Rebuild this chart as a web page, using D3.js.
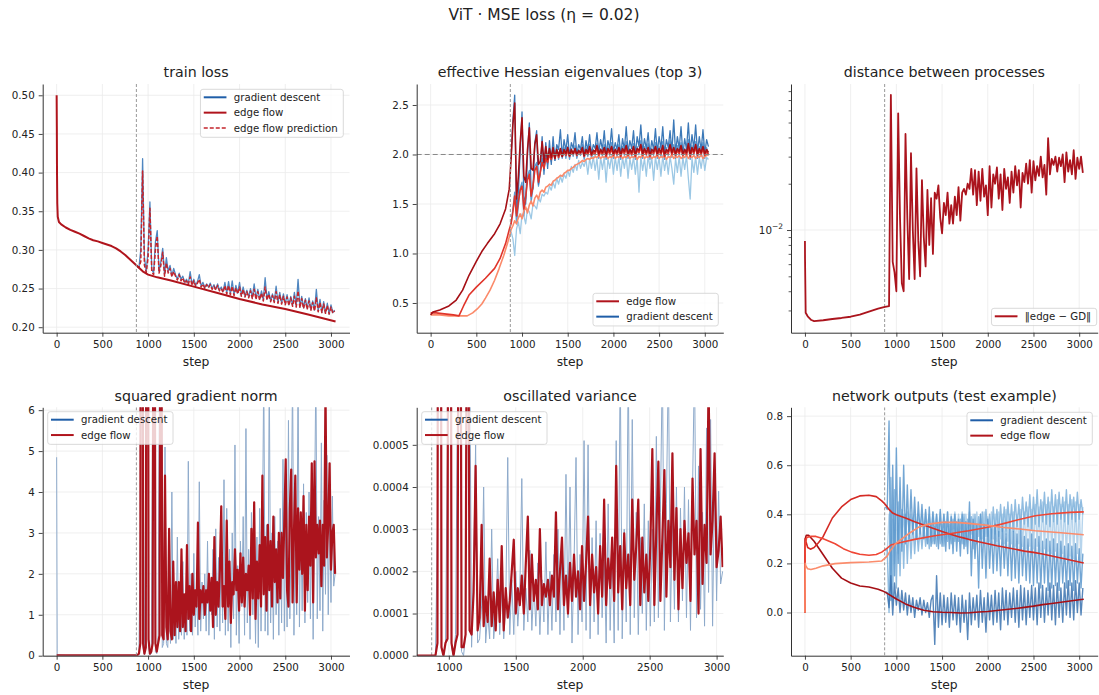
<!DOCTYPE html>
<html><head><meta charset="utf-8">
<script src="https://cdn.jsdelivr.net/npm/d3@7"></script>
<style>
body{margin:0;background:#fff;overflow:hidden;}
text{font-family:"DejaVu Sans",sans-serif;}
</style></head><body>
<script>
// ================= DATA =================
const SUPTITLE = "ViT · MSE loss (η = 0.02)";
const TITLES = ["train loss","effective Hessian eigenvalues (top 3)","distance between processes",
                "squared gradient norm","oscillated variance","network outputs (test example)"];
const X_TICKS = [0,500,1000,1500,2000,2500,3000];
const X_TICKS_VAR = [1000,1500,2000,2500,3000];
const LOSS_TICKS = [0.20,0.25,0.30,0.35,0.40,0.45,0.50];
const EIG_TICKS = [0.5,1.0,1.5,2.0,2.5];
const DIST_MAJOR = [0.01];
const DIST_MINOR = [0.003,0.004,0.005,0.006,0.007,0.008,0.009,0.02,0.03,0.04,0.05,0.06,0.07,0.08];
const GRAD_TICKS = [0,1,2,3,4,5,6];
const VAR_TICKS = [0,0.0001,0.0002,0.0003,0.0004,0.0005];
const OUT_TICKS = [0.0,0.2,0.4,0.6,0.8];
const EOS_STEP = 872;      // vertical dashed marker
const EOS_LEVEL = 2.0;     // 2/eta

// ---- panel 1: train loss ----
const lossEF = [[0,0.500],[2,0.46],[4,0.40],[7,0.36],[12,0.343],[25,0.336],[50,0.333],[100,0.329],[150,0.326],[200,0.3235],[250,0.321],[300,0.318],[350,0.315],[400,0.3125],[450,0.311],[500,0.309],[550,0.307],[600,0.305],[650,0.302],[700,0.298],[750,0.2935],[800,0.288],[850,0.2825],[900,0.277],[950,0.2715],[1000,0.268],[1100,0.2645],[1250,0.2605],[1500,0.2525],[1750,0.2445],[2000,0.2365],[2250,0.2295],[2500,0.2235],[2750,0.2165],[3050,0.2075]];
const LOSS_START = 880, LOSS_STRIDE = 20;
const lossGD = [
0.279,0.277,0.300,0.418,0.290,0.272,0.300,0.362,0.275,0.270,
0.310,0.325,0.272,0.285,0.302,0.268,0.290,0.272,0.280,0.266,
0.276,0.268,0.262,0.270,0.262,0.266,0.258,0.262,0.256,0.272,
0.256,0.262,0.254,0.259,0.268,0.253,0.258,0.251,0.256,0.252,
0.257,0.250,0.255,0.249,0.256,0.248,0.252,0.246,0.258,0.244,
0.259,0.243,0.260,0.242,0.254,0.244,0.258,0.241,0.252,0.240,
0.248,0.239,0.250,0.238,0.256,0.237,0.249,0.236,0.247,0.235,
0.264,0.236,0.246,0.234,0.243,0.233,0.253,0.232,0.245,0.231,
0.243,0.230,0.242,0.229,0.240,0.228,0.245,0.227,0.262,0.226,
0.240,0.225,0.237,0.224,0.238,0.223,0.234,0.222,0.249,0.221,
0.236,0.219,0.233,0.218,0.231,0.217,0.229,0.219,0.222];
const lossPred = [
0.279,0.277,0.285,0.402,0.280,0.271,0.290,0.354,0.272,0.268,
0.300,0.318,0.270,0.280,0.297,0.266,0.283,0.270,0.276,0.265,
0.272,0.266,0.261,0.268,0.260,0.264,0.257,0.260,0.255,0.265,
0.254,0.260,0.253,0.257,0.262,0.252,0.256,0.250,0.255,0.251,
0.255,0.249,0.253,0.248,0.254,0.247,0.250,0.245,0.254,0.243,
0.254,0.242,0.253,0.241,0.251,0.243,0.252,0.240,0.249,0.239,
0.246,0.238,0.247,0.237,0.249,0.236,0.246,0.235,0.244,0.234,
0.252,0.235,0.243,0.233,0.241,0.232,0.246,0.231,0.242,0.230,
0.240,0.229,0.239,0.228,0.238,0.227,0.240,0.226,0.247,0.225,
0.237,0.224,0.235,0.223,0.234,0.222,0.232,0.221,0.238,0.220,
0.232,0.219,0.230,0.218,0.228,0.217,0.226,0.218,0.221];

// ---- panel 2: eigenvalues ----
const EIG_START = 880, EIG_STRIDE = 20;
const eigEF1Pre = [[0,0.38],[25,0.41],[100,0.43],[200,0.47],[280,0.53],[350,0.63],[420,0.78],[500,0.92],[560,1.02],[620,1.10],[700,1.20],[760,1.30],[820,1.45],[860,1.65]];
const eigEF1 = [
1.95,2.30,2.52,1.55,1.78,2.12,2.37,1.78,1.72,2.05,
2.27,1.86,1.84,2.10,2.20,1.90,1.93,2.13,1.92,2.08,
1.95,2.06,1.97,2.07,1.96,2.05,1.99,2.06,1.98,2.05,
2.01,2.07,1.99,2.05,2.01,2.06,2.00,2.04,2.02,2.07,
1.99,2.05,2.02,2.08,2.00,2.04,2.03,2.09,2.01,2.05,
2.02,2.07,2.00,2.06,2.03,2.08,2.01,2.05,2.02,2.07,
2.00,2.06,2.03,2.09,2.01,2.05,2.02,2.08,2.00,2.06,
2.04,2.10,2.01,2.06,2.02,2.07,2.00,2.05,2.03,2.08,
2.01,2.06,2.02,2.09,2.00,2.05,2.03,2.10,2.02,2.07,
2.01,2.06,2.03,2.09,2.01,2.05,2.02,2.11,2.00,2.07,
2.03,2.10,2.01,2.06,2.02,2.08,2.01,2.05,2.02];
const eigEF2Pre = [[0,0.40],[60,0.40],[150,0.39],[250,0.38],[310,0.37],[360,0.47],[420,0.58],[500,0.66],[600,0.75],[700,0.85],[760,0.95],[820,1.10],[860,1.24]];
const eigEF2 = [
1.30,1.42,1.58,1.38,1.52,1.64,1.68,1.45,1.57,1.74,
1.80,1.58,1.68,1.84,1.88,1.72,1.82,1.92,1.86,1.96,
1.92,2.00,1.95,2.02,1.96,2.03,1.97,2.02,1.98,2.03,
1.99,2.04,1.98,2.03,2.00,2.04,1.99,2.03,2.01,2.05,
1.98,2.03,2.00,2.05,1.99,2.02,2.01,2.06,1.99,2.03,
2.00,2.05,1.98,2.04,2.01,2.05,1.99,2.03,2.00,2.05,
1.98,2.04,2.01,2.06,1.99,2.03,2.00,2.05,1.98,2.04,
2.02,2.07,1.99,2.04,2.00,2.05,1.98,2.03,2.01,2.06,
1.99,2.04,2.00,2.06,1.98,2.03,2.01,2.07,2.00,2.05,
1.99,2.04,2.01,2.06,1.99,2.03,2.00,2.08,1.98,2.05,
2.01,2.07,1.99,2.04,2.00,2.06,1.99,2.03,2.00];
const eigEF3Pre = [[0,0.38],[100,0.38],[200,0.37],[300,0.37],[400,0.37],[460,0.40],[510,0.44],[560,0.49],[600,0.55],[650,0.63],[700,0.73],[750,0.85],[800,0.98],[840,1.10],[870,1.20]];
const eigEF3 = [
1.24,1.28,1.33,1.30,1.36,1.40,1.35,1.43,1.47,1.41,
1.49,1.53,1.48,1.56,1.59,1.55,1.62,1.64,1.62,1.67,
1.68,1.70,1.69,1.73,1.74,1.76,1.77,1.79,1.78,1.81,
1.82,1.84,1.84,1.86,1.87,1.89,1.90,1.91,1.92,1.94,
1.93,1.95,1.96,1.95,1.97,1.96,1.98,1.97,1.99,1.96,
1.98,1.97,1.99,1.96,1.98,1.97,2.00,1.96,1.98,1.97,
1.99,1.96,1.98,1.97,2.00,1.96,1.98,1.97,1.99,1.95,
1.98,1.97,2.00,1.96,1.98,1.97,1.99,1.96,1.98,1.97,
2.00,1.96,1.98,1.97,1.99,1.95,1.98,1.97,2.00,1.96,
1.98,1.97,1.99,1.96,1.98,1.97,2.00,1.96,1.98,1.97,
1.99,1.96,1.98,1.97,2.00,1.96,1.98,1.99,2.00];
const eigGD1 = [
1.95,2.35,2.60,1.40,1.62,2.02,2.43,1.58,1.50,2.00,
2.32,1.60,1.66,2.12,2.24,1.70,1.82,2.18,1.80,2.12,
1.86,2.14,1.90,2.18,1.94,2.10,2.05,2.25,1.98,2.15,
2.04,2.20,1.98,2.12,2.06,2.22,2.00,2.10,2.05,2.18,
1.98,2.14,2.04,2.20,2.00,2.10,2.06,2.22,2.02,2.15,
2.05,2.24,2.00,2.14,2.06,2.26,2.02,2.12,2.05,2.20,
1.99,2.16,2.05,2.28,2.02,2.14,2.06,2.24,2.00,2.18,
2.08,2.30,2.02,2.16,2.06,2.22,2.00,2.14,2.05,2.26,
2.02,2.18,2.06,2.28,2.01,2.15,2.07,2.24,2.03,2.35,
2.02,2.18,2.06,2.28,2.00,2.16,2.05,2.32,2.02,2.20,
2.06,2.30,2.02,2.18,2.04,2.25,2.01,2.15,2.08];
const eigGD2 = [
1.30,1.45,1.62,1.30,1.48,1.66,1.72,1.38,1.55,1.78,
1.84,1.52,1.66,1.88,1.92,1.68,1.82,1.96,1.84,2.00,
1.90,2.04,1.93,2.06,1.94,2.08,1.95,2.05,1.96,2.07,
1.96,2.08,1.95,2.06,1.98,2.09,1.96,2.05,1.99,2.10,
1.95,2.07,1.98,2.10,1.96,2.05,1.99,2.11,1.96,2.06,
1.98,2.10,1.95,2.08,1.99,2.12,1.96,2.06,1.98,2.10,
1.95,2.08,1.99,2.13,1.96,2.06,1.98,2.11,1.95,2.08,
2.00,2.14,1.96,2.08,1.99,2.11,1.95,2.06,1.99,2.12,
1.96,2.08,1.98,2.13,1.95,2.07,1.99,2.14,1.97,2.10,
1.96,2.09,1.99,2.12,1.96,2.06,1.98,2.15,1.95,2.09,
1.99,2.13,1.96,2.08,1.98,2.12,1.96,2.07,1.99];
const eigGD3 = [
1.22,1.15,0.98,1.25,1.32,1.20,1.40,1.38,1.30,1.45,
1.42,1.35,1.50,1.48,1.45,1.56,1.52,1.60,1.58,1.62,
1.60,1.68,1.64,1.72,1.66,1.76,1.70,1.78,1.72,1.80,
1.76,1.84,1.78,1.88,1.82,1.90,1.84,1.94,1.86,1.92,
1.88,1.95,1.80,1.96,1.86,1.98,1.84,1.96,1.75,1.97,
1.85,1.98,1.72,1.96,1.86,1.99,1.80,1.97,1.84,1.98,
1.78,1.97,1.86,1.99,1.76,1.96,1.85,1.98,1.80,1.97,
1.62,1.98,1.84,1.96,1.78,1.99,1.86,1.97,1.74,1.98,
1.85,1.97,1.78,1.99,1.84,1.96,1.80,1.98,1.86,1.70,
1.96,1.82,1.98,1.78,1.97,1.85,1.99,1.76,1.55,1.96,
1.82,1.98,1.80,1.97,1.86,1.99,1.84,1.97,1.95];

// ---- panel 3: distance between processes ----
const distPre = [[0,0.0085],[1,0.0065],[8,0.0029],[30,0.00275],[70,0.0026],[100,0.00256],[200,0.00259],[300,0.00264],[400,0.00268],[500,0.00273],[600,0.00282],[700,0.00295],[800,0.00308],[875,0.00316],[920,0.0032]];
const DIST_START = 940, DIST_STRIDE = 20;
const distEF = [
0.0755,0.0062,0.0053,0.0040,0.0574,0.0120,0.0045,0.0040,0.0421,0.0120,
0.0048,0.0316,0.0100,0.0048,0.0252,0.0085,0.0050,0.0211,0.0090,0.0058,
0.0182,0.0080,0.0161,0.0070,0.0175,0.0160,0.0195,0.0120,0.0095,0.0150,
0.0125,0.0175,0.0110,0.0145,0.0110,0.0165,0.0125,0.0190,0.0115,0.0175,
0.0185,0.0170,0.0200,0.0185,0.0250,0.0170,0.0245,0.0145,0.0240,0.0155,
0.0250,0.0165,0.0195,0.0125,0.0260,0.0140,0.0230,0.0200,0.0255,0.0160,
0.0230,0.0135,0.0250,0.0185,0.0220,0.0150,0.0240,0.0175,0.0260,0.0195,
0.0245,0.0140,0.0235,0.0205,0.0270,0.0200,0.0285,0.0175,0.0280,0.0210,
0.0260,0.0225,0.0300,0.0220,0.0265,0.0170,0.0395,0.0230,0.0290,0.0265,
0.0300,0.0240,0.0295,0.0260,0.0310,0.0205,0.0320,0.0240,0.0285,0.0230,
0.0330,0.0215,0.0295,0.0250,0.0300,0.0235];

// ---- panel 4: squared gradient norm ----
const gradGDPre = [[0,4.85],[6,0.02],[100,0.01],[880,0.01]];
const gradEFPre = [[0,0.01],[880,0.01]];
const OSC_START = 885, OSC_STRIDE = 15;
const gradEF = [
0.02,0.05,0.3,40,0.3,0.05,0.2,30,0.4,0.05,
0.1,0.3,20,0.3,0.1,0.3,0.5,14,0.5,0.4,
4.4,0.7,0.4,3.1,0.6,0.4,2.3,0.5,1.8,0.7,
1.8,0.6,2.6,0.7,1.5,0.6,2.7,0.9,1.7,0.6,
2.0,1.0,1.6,1.2,3.25,0.9,1.6,1.3,1.7,1.0,
1.6,1.3,2.0,1.1,1.9,0.7,2.9,1.0,1.8,1.2,
2.1,3.65,1.2,1.7,0.9,3.3,1.2,2.3,0.8,1.8,
1.5,2.6,1.6,2.1,1.1,2.5,1.3,2.4,1.2,2.0,
1.6,2.2,1.0,3.1,1.4,3.75,0.9,2.3,1.4,2.7,
1.2,4.4,1.5,2.9,1.1,3.2,1.6,2.8,1.2,3.4,
1.8,2.6,1.3,3.0,1.4,3.0,1.9,3.3,4.8,1.6,
1.2,3.6,4.55,1.3,3.0,4.4,1.3,3.6,2.1,3.5,
2.0,3.9,1.1,3.2,1.6,3.4,2.2,4.7,1.3,4.75,
2.4,3.2,2.5,3.3,1.7,3.2,2.2,6.5,2.4,3.2,
4.7,2.1,3.0,3.2,2.0];
const gradGD = [
0.02,0.05,3.0,45,0.2,0.02,5.0,35,0.2,0.02,
0.05,6.0,25,0.1,0.05,0.5,8.0,16,0.2,0.3,
5.1,0.3,0.2,1.5,0.3,4.0,0.4,1.3,0.3,2.9,
0.4,1.2,0.5,2.3,0.4,1.5,0.5,4.75,0.6,2.0,
0.5,2.5,0.7,1.6,0.5,4.25,0.6,1.8,0.9,2.0,
0.6,2.8,0.5,1.8,1.0,2.6,0.4,3.1,0.7,2.4,
0.6,2.9,0.8,4.3,0.5,3.6,0.6,2.6,0.2,3.0,
0.9,5.15,0.5,2.2,0.3,2.8,1.2,3.4,0.5,5.55,
0.8,2.6,0.4,3.5,1.0,2.4,0.3,2.9,0.2,3.6,
0.6,2.8,7.0,0.6,3.2,0.5,7.0,0.8,3.0,0.4,
3.4,1.0,2.8,0.5,3.6,0.8,4.8,0.6,3.2,0.7,
5.75,0.9,3.0,7.0,0.5,3.6,1.0,7.0,0.7,3.3,
1.1,4.2,0.8,3.5,1.3,4.0,0.9,3.7,0.4,3.5,
7.0,0.9,3.4,1.1,5.2,0.6,3.8,1.5,4.9,1.0,
3.5,1.3,3.9,1.7,2.0];

// ---- panel 5: oscillated variance ----
const varPre = [[760,0],[880,0]];
const varEF = [
0,0,0.3e-4,40e-4,0.2e-4,0,0.3e-4,0.4e-4,30e-4,0.3e-4,
0,0.3e-4,0.5e-4,20e-4,0.2e-4,0.2e-4,0.5e-4,14e-4,0.6e-4,0.5e-4,
1.5e-4,4.5e-4,0.6e-4,0.9e-4,3.1e-4,0.7e-4,1.4e-4,0.8e-4,2.3e-4,0.7e-4,
1.5e-4,0.6e-4,1.8e-4,0.8e-4,2.6e-4,0.6e-4,1.6e-4,0.9e-4,1.3e-4,2.0e-4,
2.75e-4,1.0e-4,1.6e-4,1.2e-4,1.9e-4,1.0e-4,2.2e-4,3.3e-4,1.1e-4,2.4e-4,
1.3e-4,1.8e-4,1.1e-4,3.0e-4,1.2e-4,1.7e-4,1.4e-4,1.8e-4,1.2e-4,1.9e-4,
1.4e-4,3.4e-4,1.1e-4,2.0e-4,2.8e-4,1.2e-4,1.9e-4,1.0e-4,2.2e-4,1.3e-4,
2.4e-4,1.4e-4,2.0e-4,1.1e-4,2.6e-4,1.3e-4,2.2e-4,3.3e-4,1.2e-4,2.4e-4,
1.5e-4,2.1e-4,1.0e-4,2.6e-4,1.4e-4,3.7e-4,1.2e-4,2.3e-4,1.6e-4,2.8e-4,
1.3e-4,4.5e-4,1.5e-4,2.6e-4,1.1e-4,2.9e-4,1.6e-4,2.4e-4,1.2e-4,3.7e-4,
1.8e-4,2.6e-4,3.7e-4,1.2e-4,2.8e-4,1.5e-4,2.4e-4,1.3e-4,2.6e-4,4.9e-4,
1.2e-4,3.0e-4,4.6e-4,1.3e-4,2.8e-4,4.4e-4,1.4e-4,3.2e-4,2.1e-4,4.8e-4,
1.8e-4,3.5e-4,1.1e-4,3.0e-4,1.6e-4,3.2e-4,2.2e-4,2.9e-4,1.3e-4,4.2e-4,
2.4e-4,3.2e-4,1.0e-4,4.9e-4,1.7e-4,3.1e-4,2.2e-4,6.5e-4,2.4e-4,3.2e-4,
4.8e-4,2.1e-4,2.5e-4,3.3e-4,2.1e-4];
const varGD = [
0,0,3e-4,45e-4,0.2e-4,0,0.3e-4,5e-4,35e-4,0.2e-4,
0,0.5e-4,6e-4,25e-4,0.1e-4,0,0.5e-4,16e-4,8e-4,0.2e-4,
2.0e-4,5.0e-4,0.3e-4,0.4e-4,1.2e-4,4.0e-4,0.3e-4,1.0e-4,0.4e-4,3.0e-4,
0.4e-4,1.0e-4,2.3e-4,0.5e-4,1.6e-4,0.4e-4,1.2e-4,4.7e-4,0.5e-4,1.8e-4,
0.5e-4,2.0e-4,0.7e-4,1.5e-4,4.2e-4,0.6e-4,1.6e-4,0.8e-4,2.5e-4,0.6e-4,
1.7e-4,0.7e-4,2.2e-4,0.5e-4,1.8e-4,0.8e-4,2.7e-4,0.5e-4,2.0e-4,0.6e-4,
2.4e-4,0.8e-4,3.0e-4,0.5e-4,2.6e-4,0.6e-4,4.3e-4,0.9e-4,4.0e-4,0.3e-4,
2.2e-4,4.7e-4,0.5e-4,2.4e-4,0.8e-4,5.1e-4,0.6e-4,5.0e-4,0.4e-4,2.8e-4,
0.8e-4,3.2e-4,0.5e-4,2.9e-4,0.9e-4,2.4e-4,0.3e-4,3.6e-4,0.6e-4,2.6e-4,
0.3e-4,5.1e-4,0.6e-4,7.0e-4,0.4e-4,3.0e-4,0.8e-4,7.0e-4,0.5e-4,5.6e-4,
0.9e-4,3.4e-4,0.5e-4,2.8e-4,1.0e-4,3.6e-4,0.6e-4,3.2e-4,0.7e-4,3.0e-4,
0.8e-4,5.2e-4,0.9e-4,3.4e-4,7.0e-4,0.6e-4,3.6e-4,7.0e-4,0.8e-4,3.3e-4,
1.1e-4,4.0e-4,0.8e-4,3.5e-4,1.3e-4,4.0e-4,0.9e-4,3.7e-4,0.6e-4,3.9e-4,
7.0e-4,0.9e-4,4.5e-4,1.1e-4,3.4e-4,0.7e-4,5.4e-4,1.5e-4,5.6e-4,0.7e-4,
4.3e-4,1.3e-4,3.9e-4,1.7e-4,2.0e-4];

// ---- panel 6: network outputs ----
const outEF1 = [[0,0],[3,0.30],[15,0.315],[40,0.315],[100,0.29],[200,0.235],[300,0.18],[400,0.14],[500,0.12],[600,0.108],[700,0.104],[800,0.095],[850,0.088],[900,0.078],[1000,0.055],[1100,0.035],[1200,0.02],[1300,0.009],[1400,0.003],[1500,0.001],[1600,0.0],[1700,-0.002],[1800,-0.001],[1900,0.002],[2000,0.004],[2100,0.008],[2200,0.012],[2300,0.016],[2400,0.021],[2500,0.026],[2600,0.032],[2700,0.037],[2800,0.042],[2900,0.047],[3000,0.052],[3050,0.054]];
const outEF2 = [[0,0],[3,0.30],[10,0.29],[30,0.265],[60,0.258],[100,0.265],[150,0.285],[200,0.31],[300,0.385],[400,0.43],[500,0.46],[600,0.475],[700,0.478],[780,0.472],[840,0.455],[880,0.44],[920,0.42],[960,0.405],[1000,0.398],[1100,0.385],[1200,0.37],[1300,0.356],[1400,0.343],[1500,0.33],[1600,0.318],[1700,0.307],[1800,0.297],[1900,0.288],[2000,0.28],[2100,0.272],[2200,0.265],[2300,0.258],[2400,0.25],[2500,0.245],[2600,0.238],[2700,0.23],[2800,0.222],[2900,0.214],[3000,0.206],[3050,0.202]];
const outEF3 = [[0,0],[3,0.28],[20,0.306],[60,0.31],[120,0.31],[200,0.30],[330,0.28],[420,0.26],[510,0.246],[600,0.237],[700,0.233],[780,0.236],[840,0.246],[900,0.262],[940,0.275],[1000,0.281],[1060,0.286],[1200,0.298],[1420,0.313],[1600,0.322],[1790,0.333],[2000,0.347],[2150,0.36],[2300,0.375],[2520,0.394],[2700,0.402],[2900,0.408],[3050,0.41]];
const outEF4 = [[0,0],[3,0.20],[10,0.19],[30,0.178],[65,0.175],[120,0.18],[200,0.19],[330,0.199],[500,0.203],[700,0.206],[840,0.21],[900,0.23],[930,0.25],[990,0.28],[1060,0.30],[1150,0.325],[1240,0.347],[1350,0.36],[1500,0.367],[1650,0.367],[1790,0.363],[2000,0.355],[2150,0.347],[2350,0.34],[2520,0.333],[2800,0.325],[3050,0.317]];
const OUT_START = 880, OUT_STRIDE = 20;
const outGD1 = [
0.085,0.08,0.02,0.15,-0.01,0.12,0.03,0.10,0.00,0.09,
0.01,0.08,-0.01,0.07,0.00,0.06,-0.02,0.05,0.01,0.06,
-0.01,0.05,0.00,0.04,-0.02,0.05,0.07,-0.13,0.15,-0.06,
0.08,-0.05,0.07,-0.04,0.06,-0.06,0.08,-0.03,0.07,-0.05,
0.06,-0.08,0.07,-0.04,0.05,-0.11,0.08,-0.05,0.06,-0.03,
0.07,-0.06,0.09,-0.04,0.06,-0.08,0.08,-0.03,0.07,-0.05,
0.09,-0.04,0.08,-0.07,0.10,-0.03,0.09,-0.05,0.08,-0.02,
0.10,-0.04,0.09,-0.06,0.11,-0.03,0.10,-0.05,0.09,-0.02,
0.11,-0.03,0.10,-0.05,0.12,-0.02,0.11,-0.04,0.10,-0.01,
0.12,-0.03,0.11,-0.05,0.12,-0.02,0.10,-0.04,0.12,-0.01,
0.13,-0.02,0.12,-0.03,0.13,0.00,0.12,-0.01,0.10];
const outGD2 = [
0.43,0.42,0.78,0.05,0.60,0.15,0.67,0.20,0.55,0.25,
0.60,0.28,0.52,0.30,0.50,0.32,0.47,0.30,0.45,0.32,
0.44,0.30,0.42,0.28,0.43,0.27,0.41,0.28,0.40,0.26,
0.42,0.27,0.40,0.25,0.41,0.26,0.39,0.24,0.40,0.25,
0.38,0.23,0.40,0.26,0.37,0.24,0.45,0.15,0.38,0.22,
0.36,0.10,0.40,0.18,0.36,0.14,0.38,0.18,0.34,0.16,
0.36,0.17,0.33,0.15,0.35,0.18,0.32,0.15,0.34,0.13,
0.33,0.14,0.32,0.12,0.34,0.15,0.31,0.13,0.30,0.12,
0.32,0.11,0.30,0.12,0.31,0.10,0.29,0.12,0.30,0.09,
0.29,0.10,0.30,0.11,0.28,0.09,0.29,0.12,0.27,0.10,
0.28,0.11,0.27,0.09,0.28,0.12,0.26,0.10,0.24];
const outGD3 = [
0.25,0.26,0.00,0.55,0.05,0.50,0.10,0.45,0.15,0.42,
0.18,0.40,0.20,0.38,0.22,0.37,0.24,0.36,0.25,0.35,
0.26,0.36,0.27,0.35,0.26,0.36,0.28,0.35,0.27,0.36,
0.28,0.36,0.27,0.37,0.29,0.36,0.28,0.38,0.29,0.37,
0.29,0.38,0.28,0.40,0.27,0.38,0.30,0.39,0.26,0.40,
0.28,0.39,0.30,0.41,0.29,0.42,0.31,0.40,0.30,0.43,
0.32,0.42,0.31,0.44,0.33,0.43,0.32,0.45,0.34,0.44,
0.33,0.46,0.35,0.44,0.34,0.47,0.36,0.45,0.35,0.48,
0.34,0.47,0.36,0.50,0.35,0.46,0.37,0.49,0.36,0.47,
0.35,0.50,0.37,0.48,0.36,0.49,0.38,0.47,0.37,0.50,
0.36,0.48,0.38,0.47,0.37,0.49,0.38,0.46,0.40];
const outGD4 = [
0.22,0.24,0.40,0.15,0.38,0.20,0.40,0.24,0.40,0.28,
0.40,0.30,0.41,0.32,0.40,0.33,0.40,0.34,0.40,0.35,
0.40,0.34,0.41,0.35,0.40,0.34,0.41,0.35,0.40,0.34,
0.41,0.33,0.40,0.34,0.41,0.33,0.40,0.34,0.41,0.33,
0.40,0.33,0.41,0.32,0.40,0.33,0.41,0.32,0.40,0.30,
0.41,0.31,0.40,0.30,0.41,0.31,0.39,0.29,0.41,0.30,
0.40,0.29,0.41,0.30,0.40,0.28,0.42,0.29,0.40,0.28,
0.41,0.27,0.40,0.28,0.42,0.27,0.41,0.26,0.43,0.27,
0.42,0.26,0.44,0.27,0.43,0.25,0.45,0.26,0.44,0.25,
0.45,0.24,0.43,0.25,0.46,0.23,0.44,0.24,0.45,0.22,
0.44,0.23,0.46,0.22,0.45,0.24,0.44,0.21,0.43];

// ================= COLOURS =================
const C_GD = "#1f5ea8", C_EF = "#b0141c";
const REDS3 = ["#a50f15","#e0352b","#fb8a6a"];
const BLUES3 = ["#3c79b8","#5d9dd2","#9cc8e5"];
const REDS4 = ["#a50f15","#d42a24","#ef4635","#fb8c6c"];
const BLUES4 = ["#3a72af","#5a96cc","#7cb0db","#a9cde9"];

// ================= HELPERS =================
function onGrid(start, stride, vals){ return vals.map((v,i)=>[start+i*stride, v]); }

const svg = d3.select("body").append("svg").attr("width",1099).attr("height",695);
const defs = svg.append("defs");
svg.append("text").attr("x",544).attr("y",19.5).attr("text-anchor","middle")
  .attr("font-size",15.5).attr("fill","#222").text(SUPTITLE);

const ROWS = [{T:84,B:332.7},{T:407.3,B:655.7}];
const COLS = [{L:42.7,R:349.5},{L:416.7,R:723.3},{L:791,R:1097.7}];

function panel(o){
  const {L,R} = COLS[o.c], {T,B} = ROWS[o.r];
  const x = d3.scaleLinear().domain(o.xd).range([L,R]);
  const y = (o.log ? d3.scaleLog() : d3.scaleLinear()).domain(o.yd).range([B,T]);
  const g = svg.append("g");
  const gg = g.append("g").attr("stroke","#ebebeb").attr("stroke-width",0.8);
  o.xt.forEach(v=>gg.append("line").attr("x1",x(v)).attr("x2",x(v)).attr("y1",T).attr("y2",B));
  o.yt.forEach(v=>gg.append("line").attr("x1",L).attr("x2",R).attr("y1",y(v)).attr("y2",y(v)));
  const cid = "clip"+o.r+o.c;
  defs.append("clipPath").attr("id",cid).append("rect").attr("x",L).attr("y",T).attr("width",R-L).attr("height",B-T);
  const plot = g.append("g").attr("clip-path",`url(#${cid})`);
  const ax = g.append("g");
  const xa = ax.append("g").attr("transform",`translate(0,${B})`)
    .call(d3.axisBottom(x).tickValues(o.xt).tickFormat(d3.format("d")).tickSize(4).tickSizeOuter(0).tickPadding(4));
  const ya = ax.append("g").attr("transform",`translate(${L},0)`)
    .call(d3.axisLeft(y).tickValues(o.yt).tickFormat(o.yf).tickSize(4).tickSizeOuter(0).tickPadding(4));
  if (o.minor){
    const ym = ax.append("g").attr("transform",`translate(${L},0)`)
      .call(d3.axisLeft(y).tickValues(o.minor).tickFormat(()=>"").tickSize(2.4).tickSizeOuter(0));
    ym.select(".domain").remove();
    ym.selectAll(".tick line").attr("stroke","#333").attr("stroke-width",0.8);
  }
  [xa,ya].forEach(a=>{
    a.attr("font-family","DejaVu Sans").attr("font-size",10.3);
    a.select(".domain").attr("stroke","#333").attr("stroke-width",1);
    a.selectAll(".tick line").attr("stroke","#333").attr("stroke-width",0.9);
    a.selectAll(".tick text").attr("fill","#222");
  });
  g.append("text").attr("x",(L+R)/2).attr("y",T-6.8).attr("text-anchor","middle")
    .attr("font-size",14.2).attr("fill","#222").text(o.title);
  g.append("text").attr("x",(L+R)/2).attr("y",B+32.8).attr("text-anchor","middle")
    .attr("font-size",12.3).attr("fill","#222").text("step");
  return {x,y,plot,ya,L,R,T,B};
}

function line(p, data, color, width, opt={}){
  const path = p.plot.append("path").datum(data).attr("fill","none")
    .attr("stroke",color).attr("stroke-width",width)
    .attr("stroke-linejoin","round").attr("stroke-linecap","butt")
    .attr("d", d3.line().x(d=>p.x(d[0])).y(d=>p.y(d[1])));
  if (opt.dash) path.attr("stroke-dasharray",opt.dash);
  if (opt.opacity!=null) path.attr("stroke-opacity",opt.opacity);
  return path;
}
function vmark(p, step){
  p.plot.append("line").attr("x1",p.x(step)).attr("x2",p.x(step)).attr("y1",p.T).attr("y2",p.B)
    .attr("stroke","#999").attr("stroke-width",1).attr("stroke-dasharray","3,2");
}
function legend(items, pos){
  const lg = svg.append("g");
  const n = items.length, h = 8 + (n-1)*15.35 + 9.3;
  const box = lg.append("rect");
  const texts = items.map(it=>lg.append("text").attr("font-size",10.2).attr("fill","#222").text(it.label));
  const tw = d3.max(texts, t=>t.node().getComputedTextLength());
  const w = 3.3 + 22.7 + 7.3 + tw + 5.5;
  const x0 = pos.right!=null ? pos.right - w : pos.left;
  const y0 = pos.top;
  box.attr("x",x0).attr("y",y0).attr("width",w).attr("height",h).attr("rx",2.5)
    .attr("fill","#fff").attr("fill-opacity",0.8).attr("stroke","#d0d0d0").attr("stroke-width",0.8);
  items.forEach((it,i)=>{
    const cy = y0 + 8 + i*15.35;
    const ln = lg.append("line").attr("x1",x0+3.3).attr("x2",x0+26).attr("y1",cy).attr("y2",cy)
      .attr("stroke",it.color).attr("stroke-width",it.width||2);
    if (it.dash) ln.attr("stroke-dasharray",it.dash);
    texts[i].attr("x",x0+33.3).attr("y",cy).attr("dy","0.35em");
  });
}

// ================= PANEL 1 =================
const p1 = panel({r:0,c:0,xd:[-152.5,3202.5],yd:[0.1929,0.5146],xt:X_TICKS,yt:LOSS_TICKS,yf:d3.format(".2f"),title:TITLES[0]});
line(p1, onGrid(LOSS_START,LOSS_STRIDE,lossGD), "#4f86c0", 1.3);
line(p1, onGrid(LOSS_START,LOSS_STRIDE,lossPred), "#c4242b", 1.5, {dash:"4,2"});
line(p1, lossEF, C_EF, 2);
vmark(p1, EOS_STEP);
legend([{label:"gradient descent",color:C_GD},{label:"edge flow",color:C_EF},{label:"edge flow prediction",color:"#c4242b",dash:"4,2",width:1.5}],{right:343.3,top:89.3});

// ================= PANEL 2 =================
const p2 = panel({r:0,c:1,xd:[-152.5,3202.5],yd:[0.20,2.712],xt:X_TICKS,yt:EIG_TICKS,yf:d3.format(".1f"),title:TITLES[1]});
[eigGD3,eigGD2,eigGD1].forEach((s,i)=>line(p2, onGrid(EIG_START,EIG_STRIDE,s), BLUES3[2-i], 1.3));
[[eigEF3Pre,eigEF3],[eigEF2Pre,eigEF2],[eigEF1Pre,eigEF1]].forEach(([pre,s],i)=>
  line(p2, pre.concat(onGrid(EIG_START,EIG_STRIDE,s)), REDS3[2-i], 1.6));
vmark(p2, EOS_STEP);
p2.plot.append("line").attr("x1",p2.L).attr("x2",p2.R).attr("y1",p2.y(EOS_LEVEL)).attr("y2",p2.y(EOS_LEVEL))
  .attr("stroke","#888").attr("stroke-width",1).attr("stroke-dasharray","5,3");
legend([{label:"edge flow",color:C_EF},{label:"gradient descent",color:C_GD}],{right:718.3,top:293.3});

// ================= PANEL 3 =================
const p3 = panel({r:0,c:2,xd:[-152.5,3202.5],yd:[0.00215,0.089],log:true,xt:X_TICKS,yt:DIST_MAJOR,minor:DIST_MINOR,yf:()=>"",title:TITLES[2]});
p3.ya.selectAll(".tick text").each(function(){
  const t = d3.select(this);
  t.text("10");
  t.append("tspan").attr("dy",-4.5).attr("font-size",7.5).text("−2");
});
vmark(p3, EOS_STEP);
line(p3, distPre.concat(onGrid(DIST_START,DIST_STRIDE,distEF)), "#ab141d", 1.8);
legend([{label:"‖edge − GD‖",color:C_EF}],{right:1096.7,top:308.3});

// ================= PANEL 4 =================
const p4 = panel({r:1,c:0,xd:[-152.5,3202.5],yd:[0,6.07],xt:X_TICKS,yt:GRAD_TICKS,yf:d3.format("d"),title:TITLES[3]});
line(p4, gradGDPre.concat(onGrid(OSC_START,OSC_STRIDE,gradGD)), "#8eaacb", 1);
line(p4, gradEFPre.concat(onGrid(OSC_START,OSC_STRIDE,gradEF)), "#ab141d", 2.2);
vmark(p4, EOS_STEP);
legend([{label:"gradient descent",color:C_GD},{label:"edge flow",color:C_EF}],{left:47.7,top:411.7});

// ================= PANEL 5 =================
const p5 = panel({r:1,c:1,xd:[760,3050],yd:[0,0.000589],xt:X_TICKS_VAR,yt:VAR_TICKS,yf:d3.format(".4f"),title:TITLES[4]});
vmark(p5, EOS_STEP);
line(p5, varPre.concat(onGrid(OSC_START,OSC_STRIDE,varGD)), "#8eaacb", 1);
line(p5, varPre.concat(onGrid(OSC_START,OSC_STRIDE,varEF)), "#ab141d", 2.2);
legend([{label:"gradient descent",color:C_GD},{label:"edge flow",color:C_EF}],{left:421.7,top:411.7});

// ================= PANEL 6 =================
const p6 = panel({r:1,c:2,xd:[-152.5,3202.5],yd:[-0.176,0.836],xt:X_TICKS,yt:OUT_TICKS,yf:d3.format(".1f"),title:TITLES[5]});
vmark(p6, EOS_STEP);
[outGD4,outGD3,outGD2,outGD1].forEach((s,i)=>line(p6, onGrid(OUT_START,OUT_STRIDE,s), BLUES4[3-i], 1.4, {opacity:0.85}));
[outEF1,outEF2,outEF3,outEF4].forEach((s,i)=>line(p6, s, REDS4[i], 1.6));
legend([{label:"gradient descent",color:C_GD},{label:"edge flow",color:C_EF}],{right:1092.3,top:412.3});
</script>
</body></html>
